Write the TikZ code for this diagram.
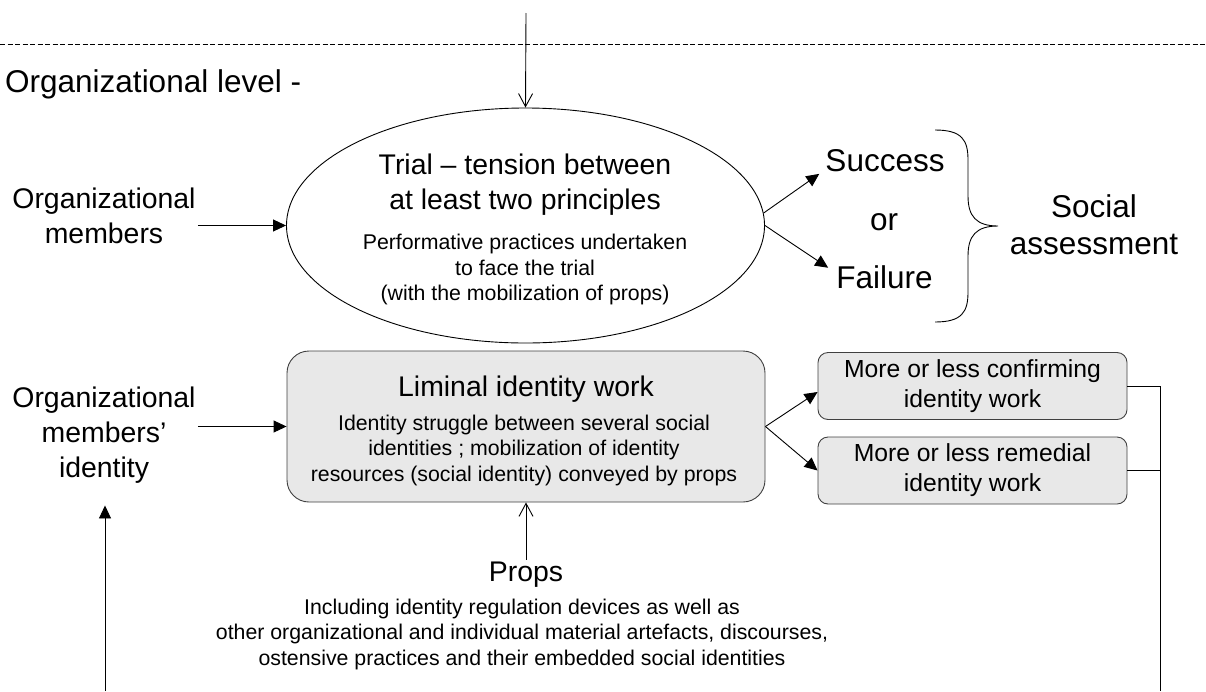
\documentclass[tikz,border=0pt]{standalone}
\usepackage{fontspec}
\setmainfont{Liberation Sans}
\usepackage{tikz}
\usetikzlibrary{arrows.meta,shapes.geometric}

\newcommand{\txtbig}{\fontsize{31.5}{37}\selectfont}
\newcommand{\txtmid}{\fontsize{28.4}{35}\selectfont}
\newcommand{\txtbox}{\fontsize{24.7}{30}\selectfont}
\newcommand{\txtsmall}{\fontsize{21.3}{25.5}\selectfont}

\begin{document}
\begin{tikzpicture}[x=1pt,y=-1pt]
        \tikzstyle{every node}+=[inner sep=2pt]
        \tikzstyle{tri}=[-{Triangle[length=13pt,width=12pt]}, line width=0.9pt]
        \tikzstyle{barb}=[-{Straight Barb[length=13pt,width=14pt]}, line width=0.9pt]
        \tikzstyle{greybox}=[draw=black!75, fill=black!9, line width=0.9pt]
        \useasboundingbox (0,0) rectangle (1206,691);
        \draw [dash pattern=on 5pt off 2.5pt, line width=0.8pt] (0,44) -- (1206,44);
        \node [anchor=base west, inner sep=0pt, font=\txtbig] (level) at (5,92) {Organizational level -};
        % upper row
        \node [ellipse, draw, line width=0.9pt, minimum width=478pt, minimum height=235pt, inner sep=0pt] (trial) at (525.5,225.5) {};
        \node [align=center, font=\txtmid] (trialhead) at (525,185) {Trial -- tension between\\at least two principles};
        \node [align=center, font=\txtsmall] (trialtext) at (525,269.5) {Performative practices undertaken\\to face the trial\\(with the mobilization of props)};
        \node [align=center, font=\txtmid] (mem) at (104,215.5) {Organizational\\members};
        \node [font=\txtbig] (succ) at (885,160.5) {Success};
        \node [font=\txtbig] (or) at (884,222) {or};
        \node [font=\txtbig] (fail) at (884.5,277) {Failure};
        \node [align=center, font=\txtbig] (social) at (1094,225) {Social\\assessment};
        \draw [line width=0.9pt] (935,130) .. controls (962,130) and (968,140) .. (968,160) -- (968,196)
              .. controls (968,216) and (976,226) .. (998,226)
              .. controls (976,226) and (968,236) .. (968,256) -- (968,292)
              .. controls (968,312) and (962,322) .. (935,322);
        % lower row
        \node [greybox, rounded corners=22pt, minimum width=478pt, minimum height=151pt] (lim) at (526,426.5) {};
        \node [font=\txtmid] (limhead) at (526,389) {Liminal identity work};
        \node [align=center, font=\txtsmall] (limtext) at (524,450) {Identity struggle between several social\\identities ; mobilization of identity\\resources (social identity) conveyed by props};
        \node [align=center, font=\txtmid] (memid) at (104,435) {Organizational\\members'\\identity};
        \node [greybox, rounded corners=10pt, minimum width=309pt, minimum height=67pt, align=center, font=\txtbox] (conf) at (972.5,386) {More or less confirming\\identity work};
        \node [greybox, rounded corners=10pt, minimum width=309pt, minimum height=67pt, align=center, font=\txtbox] (rem) at (972.5,470.5) {More or less remedial\\identity work};
        \node [font=\txtmid] (props) at (526,574.5) {Props};
        \node [align=center, font=\txtsmall] (propstext) at (522,634) {Including identity regulation devices as well as\\other organizational and individual material artefacts, discourses,\\ostensive practices and their embedded social identities};
        % connectors
        \coordinate (topin) at (526,13);
        \coordinate (railbot) at (1160,691);
        \coordinate (leftbot) at (105,691);
        \draw [barb] (topin) -- (trial.north);
        \draw [tri] (mem.east |- trial.west) -- (trial.west);
        \draw [tri] (trial.3) -- ([xshift=-4pt]succ.south west);
        \draw [tri] (trial.east) -- ([shift={(-6,4.5)}]fail.north west);
        \draw [tri] (memid.east |- lim.west) -- (lim.west);
        \draw [tri] (lim.east) -- ([yshift=-6pt]conf.west);
        \draw [tri] (lim.east) -- (rem.west);
        \draw [barb] (props.north) -- (lim.south);
        \draw [line width=0.9pt] (conf.east) -| (railbot);
        \draw [line width=0.9pt] (rem.east) -- (rem.east -| railbot);
        \draw [tri] (leftbot) -- ([yshift=-3pt]leftbot |- lim.south);
\end{tikzpicture}
\end{document}
